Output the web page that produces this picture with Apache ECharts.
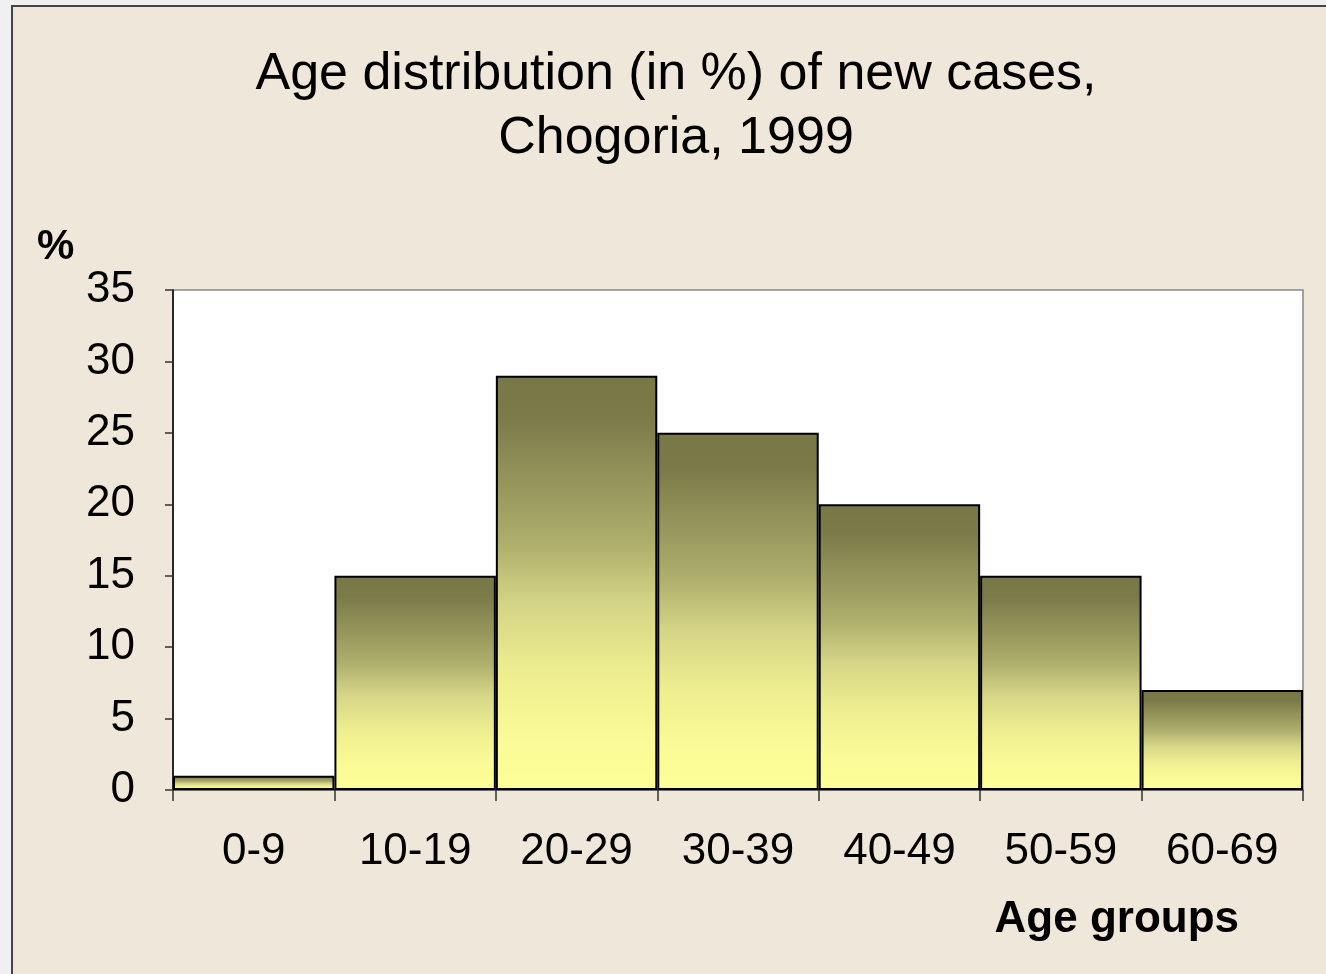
<!DOCTYPE html>
<html>
<head>
<meta charset="utf-8">
<script src="https://cdn.jsdelivr.net/npm/echarts@6/dist/echarts.min.js"></script>
<style>
  html, body { margin: 0; padding: 0; background: #f0f0f0; }
  #frame {
    position: absolute; left: 11px; top: 5px;
    width: 1330px; height: 990px;
    background: #efe7d9;
    border: 2px solid #444;
  }
  #main { position: absolute; left: 0; top: 0; width: 1326px; height: 974px; }
</style>
</head>
<body>
<div id="frame"></div>
<div id="main"></div>
<script>
// age groups and share of new cases (%)
var ageGroups = ['0-9', '10-19', '20-29', '30-39', '40-49', '50-59', '60-69'];
var percents = [1, 15, 29, 25, 20, 15, 7];
var yTicks = [0, 5, 10, 15, 20, 25, 30, 35];

var chart = echarts.init(document.getElementById('main'));

var barFill = new echarts.graphic.LinearGradient(0, 0, 0, 1, [
  { offset: 0, color: '#777747' },
  { offset: 0.1, color: '#7b7b4a' },
  { offset: 0.4, color: '#adad6c' },
  { offset: 0.55, color: '#d4d486' },
  { offset: 0.72, color: '#eeee90' },
  { offset: 0.88, color: '#fafa96' },
  { offset: 1, color: '#ffff99' }
]);

var option = {
  backgroundColor: 'transparent',
  textStyle: { fontFamily: 'Liberation Sans, Arial, sans-serif' },
  title: {
    text: 'Age distribution (in %) of new cases,\nChogoria, 1999',
    left: 671, top: 38, textAlign: 'center',
    textStyle: { fontSize: 52, fontWeight: 'normal', color: '#000', lineHeight: 64 }
  },
  grid: { left: 173, right: 23, top: 290, bottom: 184 },
  xAxis: {
    type: 'category',
    data: ageGroups,
    boundaryGap: true,
    name: 'Age groups',
    nameLocation: 'end',
    nameGap: 0,
    nameTextStyle: {
      fontSize: 44, fontWeight: 'bold', color: '#000',
      align: 'right', verticalAlign: 'top', padding: [108, 64, 0, 0]
    },
    axisLine: { lineStyle: { color: '#555', width: 1.5 } },
    axisTick: { show: true, alignWithLabel: false, length: 11, lineStyle: { color: '#333', width: 1.5 } },
    axisLabel: { fontSize: 44, color: '#000', margin: 40 },
    splitLine: { show: false }
  },
  yAxis: {
    type: 'value',
    min: 0, max: 35, interval: 5,
    name: '%',
    nameLocation: 'end',
    nameGap: 0,
    nameTextStyle: {
      fontSize: 42, fontWeight: 'bold', color: '#000',
      align: 'left', verticalAlign: 'bottom', padding: [0, 0, 22, -136]
    },
    axisLine: { show: true, lineStyle: { color: '#000', width: 1.5 } },
    axisTick: { show: true, length: 8, lineStyle: { color: '#333', width: 1.5 } },
    axisLabel: {
      fontSize: 44, color: '#000', margin: 38,
      formatter: function (v) { return yTicks.indexOf(v) >= 0 ? String(v) : ''; }
    },
    splitLine: { show: false }
  },
  series: [{
    type: 'bar',
    data: percents,
    barCategoryGap: 0,
    barGap: 0,
    itemStyle: { color: barFill, borderColor: '#000', borderWidth: 2 },
    silent: true
  }],
  graphic: [{
    type: 'rect',
    z: -1,
    shape: { x: 173, y: 290, width: 1130, height: 500 },
    style: { fill: '#fff', stroke: '#888', lineWidth: 1.5 }
  }],
  animation: false
};

chart.setOption(option);
</script>
</body>
</html>
